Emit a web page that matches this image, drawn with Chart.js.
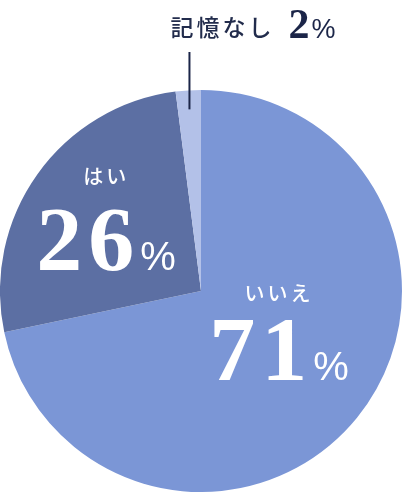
<!DOCTYPE html>
<html>
<head>
<meta charset="utf-8">
<script src="https://cdn.jsdelivr.net/npm/chart.js@4"></script>
<style>
  html, body { margin: 0; padding: 0; background: #fff; }
  #wrap { width: 402px; height: 492px; position: relative; }
</style>
</head>
<body>
<div id="wrap"><canvas id="pieChart"></canvas></div>
<script>
// Chart data
const labels = ['いいえ', 'はい', '記憶なし'];
const values = [71, 26, 2];
const sliceColors = ['#7b96d6', '#5c6fa3', '#b3c1e8'];

// Draw labels on top of the slices
const pieLabels = {
    id: 'pieLabels',
    afterDraw(chart) {
        const ctx = chart.ctx;
        const arcs = chart.getDatasetMeta(0).data;
        const numFont = 'bold 92px "Liberation Serif", serif';
        const pctFont = '40px "Liberation Sans", sans-serif';
        const kanaFont = '500 20px "Noto Sans CJK JP", sans-serif';

        // big inside labels (いいえ, はい)
        const inside = [
            { i: 0, dx: 0, ly: -61, ny: 26 },
            { i: 1, dx: -13, ly: -56, ny: 37 }
        ];
        ctx.save();
        ctx.fillStyle = '#ffffff';
        inside.forEach(o => {
            const p = arcs[o.i].tooltipPosition();
            const x = p.x + o.dx;
            ctx.font = kanaFont;
            ctx.textAlign = 'center';
            ctx.textBaseline = 'middle';
            ctx.letterSpacing = '3px';
            ctx.fillText(labels[o.i], x, p.y + o.ly);

            const num = String(values[o.i]);
            ctx.font = numFont;
            ctx.letterSpacing = '6px';
            const wNum = ctx.measureText(num).width;
            ctx.letterSpacing = '0px';
            ctx.font = pctFont;
            const wPct = ctx.measureText('%').width;
            const gap = 0;
            const left = x - (wNum + gap + wPct) / 2;
            ctx.textAlign = 'left';
            ctx.textBaseline = 'alphabetic';
            ctx.font = numFont;
            ctx.letterSpacing = '6px';
            ctx.fillText(num, left, p.y + o.ny);
            ctx.letterSpacing = '0px';
            ctx.font = pctFont;
            ctx.fillText('%', left + wNum + gap, p.y + o.ny);
        });

        // small slice: leader line + outside label
        const a = arcs[2];
        const mid = (a.startAngle + a.endAngle) / 2;
        const lx = a.x + Math.cos(mid) * (a.outerRadius - 19);
        const ly = a.y + Math.sin(mid) * (a.outerRadius - 19);
        ctx.strokeStyle = '#1b2548';
        ctx.lineWidth = 2;
        ctx.beginPath();
        ctx.moveTo(lx, ly);
        ctx.lineTo(lx, 52);
        ctx.stroke();

        ctx.fillStyle = '#222c4c';
        ctx.textAlign = 'left';
        ctx.textBaseline = 'alphabetic';
        let tx = lx - 19;
        ctx.font = '500 23px "Noto Sans CJK JP", sans-serif';
        ctx.letterSpacing = '3px';
        ctx.fillText(labels[2], tx, 36);
        tx += ctx.measureText(labels[2]).width + 14;
        ctx.fillStyle = '#1b2548';
        ctx.font = 'bold 42px "Liberation Serif", serif';
        ctx.letterSpacing = '2px';
        ctx.fillText(String(values[2]), tx, 38);
        tx += ctx.measureText(String(values[2])).width;
        ctx.letterSpacing = '0px';
        ctx.font = '27px "Liberation Sans", sans-serif';
        ctx.fillText('%', tx, 38);
        ctx.restore();
    }
};

new Chart(document.getElementById('pieChart'), {
    type: 'pie',
    data: {
        labels: labels,
        datasets: [{
            data: values,
            backgroundColor: sliceColors,
            borderWidth: 0
        }]
    },
    options: {
        responsive: true,
        maintainAspectRatio: false,
        animation: false,
        layout: { padding: { top: 90, left: 0, right: 0, bottom: 0 } },
        plugins: {
            legend: { display: false },
            tooltip: { enabled: false }
        }
    },
    plugins: [pieLabels]
});
</script>
</body>
</html>
